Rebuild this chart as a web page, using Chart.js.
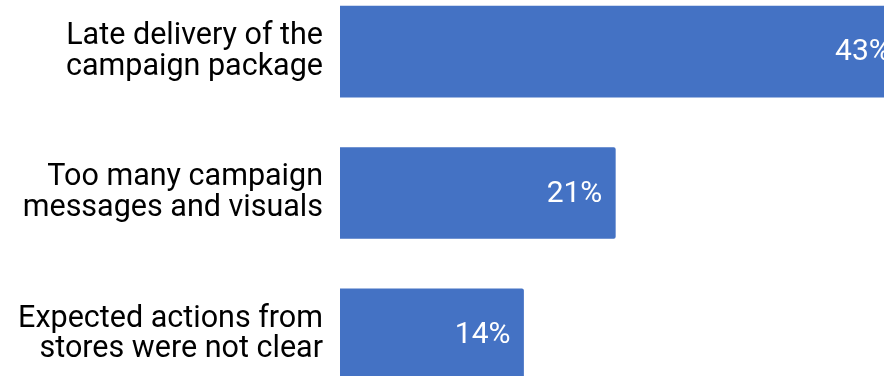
<!DOCTYPE html>
<html>
<head>
<meta charset="utf-8">
<script src="https://cdn.jsdelivr.net/npm/chart.js@4/dist/chart.umd.min.js"></script>
<style>
  html, body { margin: 0; padding: 0; width: 884px; height: 376px; overflow: hidden; background: #fff; }
  #wrap { position: absolute; left: 0; top: -19px; width: 930px; height: 424px; }
</style>
</head>
<body>
<div id="wrap"><canvas id="c" width="930" height="424"></canvas></div>
<script>
const categories = [
  ["Late delivery of the", "campaign package"],
  ["Too many campaign", "messages and visuals"],
  ["Expected actions from", "stores were not clear"]
];
const values = [43, 21, 14];
const valueLabels = ["43%", "21%", "14%"];

const barLabelPlugin = {
  id: 'barLabels',
  afterDatasetsDraw(chart) {
    const ctx = chart.ctx;
    const meta = chart.getDatasetMeta(0);
    ctx.save();
    ctx.fillStyle = '#ffffff';
    ctx.font = '30px Roboto';
    ctx.textAlign = 'right';
    ctx.textBaseline = 'middle';
    meta.data.forEach((bar, i) => {
      ctx.fillText(valueLabels[i], bar.x - 13, bar.y + 1);
    });
    ctx.restore();
  }
};

new Chart(document.getElementById('c'), {
  type: 'bar',
  data: {
    labels: categories,
    datasets: [{
      data: values,
      backgroundColor: '#4472C4',
      borderRadius: 2,
      borderSkipped: 'start',
      barThickness: 91
    }]
  },
  options: {
    indexAxis: 'y',
    responsive: false,
    animation: false,
    layout: { padding: 0 },
    plugins: { legend: { display: false }, tooltip: { enabled: false } },
    scales: {
      x: { display: false, min: 0, max: 45 },
      y: {
        grid: { display: false, drawTicks: false },
        border: { display: false },
        afterFit(scale) {
          scale.width = 340;
          scale.paddingTop = 0;
          scale.paddingBottom = 0;
        },
        ticks: {
          color: '#000000',
          padding: 17,
          font: { family: 'Roboto', size: 30.5, lineHeight: 1.0 }
        }
      }
    }
  },
  plugins: [barLabelPlugin]
});
</script>
</body>
</html>
